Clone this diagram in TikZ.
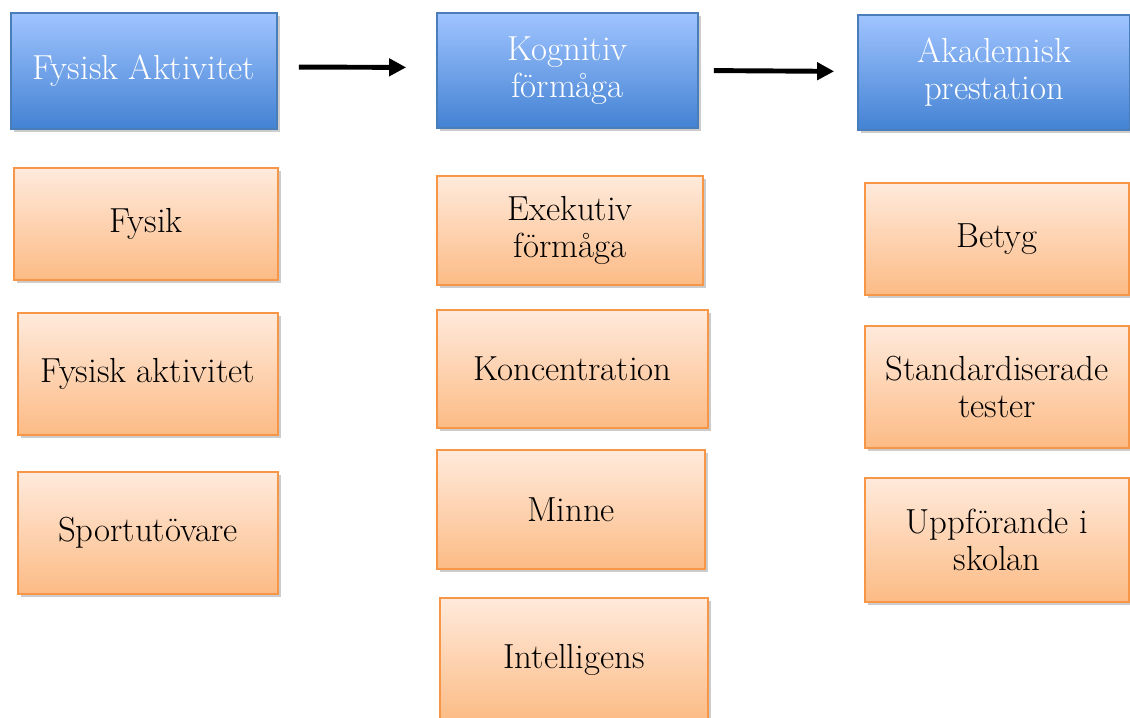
\documentclass[tikz,border=0pt]{standalone}
\usepackage{tikz}
\usetikzlibrary{shadows, arrows.meta}

\definecolor{blueTop}{HTML}{A0C4FF}
\definecolor{blueBot}{HTML}{4382D3}
\definecolor{blueLine}{HTML}{4A7EBB}
\definecolor{orTop}{HTML}{FFEADC}
\definecolor{orBot}{HTML}{FCBB85}
\definecolor{orLine}{HTML}{F79646}

\tikzset{
  head/.style={draw=blueLine, line width=1pt, top color=blueTop, bottom color=blueBot,
    text=white, align=center, inner sep=0pt, font=\fontsize{19.8}{21}\selectfont,
    drop shadow={shadow xshift=0.6mm, shadow yshift=-0.6mm, opacity=0.4}},
  item/.style={draw=orLine, line width=1pt, top color=orTop, bottom color=orBot,
    text=black, align=center, inner sep=0pt, font=\fontsize{19.8}{21}\selectfont,
    drop shadow={shadow xshift=0.6mm, shadow yshift=-0.6mm, opacity=0.4}},
  flow/.style={-{Triangle[length=3.4mm, width=3.4mm]}, line width=2.8pt, black}
}

\begin{document}
\begin{tikzpicture}
\useasboundingbox (0, 0) rectangle (22.6, -14.36);

\node[head, minimum width=5.32cm, minimum height=2.32cm] (fysakt) at (2.88, -1.42) {Fysisk Aktivitet};
\node[head, minimum width=5.22cm, minimum height=2.30cm] (kogn) at (11.35, -1.41) {Kognitiv\\förmåga};
\node[head, minimum width=5.44cm, minimum height=2.30cm] (akad) at (19.88, -1.45) {Akademisk\\prestation};

\draw[flow, shorten <=0.42cm, shorten >=0.6cm] ([yshift=0.08cm]fysakt.east) -- ([yshift=0.06cm]kogn.west);
\draw[flow, shorten <=0.3cm, shorten >=0.46cm] (kogn.east) -- ([yshift=0.02cm]akad.west);

\node[item, minimum width=5.28cm, minimum height=2.24cm] (fysik) at (2.92, -4.48) {Fysik};
\node[item, minimum width=5.20cm, minimum height=2.44cm] (aktiv) at (2.96, -7.48) {Fysisk aktivitet};
\node[item, minimum width=5.20cm, minimum height=2.44cm] (sport) at (2.96, -10.66) {Sportutövare};

\node[item, minimum width=5.32cm, minimum height=2.18cm] (exek) at (11.40, -4.61) {Exekutiv\\förmåga};
\node[item, minimum width=5.42cm, minimum height=2.36cm] (konc) at (11.45, -7.38) {Koncentration};
\node[item, minimum width=5.36cm, minimum height=2.38cm] (minne) at (11.42, -10.19) {Minne};
\node[item, minimum width=5.36cm, minimum height=2.48cm] (intel) at (11.48, -13.20) {Intelligens};

\node[item, minimum width=5.28cm, minimum height=2.24cm] (betyg) at (19.94, -4.78) {Betyg};
\node[item, minimum width=5.28cm, minimum height=2.44cm] (test) at (19.94, -7.74) {Standardiserade\\tester};
\node[item, minimum width=5.28cm, minimum height=2.48cm] (uppf) at (19.94, -10.80) {Uppförande i\\skolan};
\end{tikzpicture}
\end{document}
